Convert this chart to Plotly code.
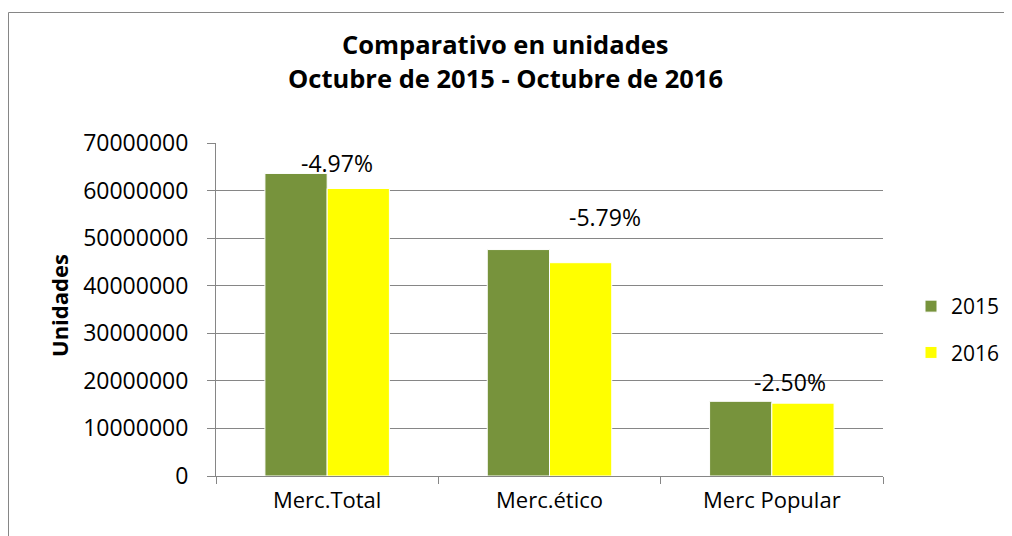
import plotly.graph_objects as go

categories = ["Merc.Total", "Merc.ético", "Merc Popular"]
series_2015 = [63600000, 47600000, 15700000]
series_2016 = [60440000, 44840000, 15310000]
pct_labels = ["-4.97%", "-5.79%", "-2.50%"]
pct_label_y = [65800000, 54500000, 19700000]
pct_label_xshift = [10, 55, 18]

FONT = "Open Sans"
OFF = 8  # page body margin
W, H = 1012 - OFF, 536 - OFF
L, T = 216 - OFF, 143 - OFF
R = W - (883 - OFF)
B = H - (476 - OFF)
pw, ph = W - L - R, H - T - B

def px_x(x):
    return (x - OFF - L) / pw

def px_y(y):
    return (H - B - (y - OFF)) / ph

fig = go.Figure()
fig.add_bar(name="2015", x=categories, y=series_2015, marker=dict(color="#77933C", line=dict(color="white", width=1)),
            legendgroup="a")
fig.add_bar(name="2016", x=categories, y=series_2016, marker=dict(color="#FFFF00", line=dict(color="white", width=1)),
            legendgroup="b")

for c, t, y, xs in zip(categories, pct_labels, pct_label_y, pct_label_xshift):
    fig.add_annotation(x=c, y=y, text=t, showarrow=False, xshift=xs,
                       font=dict(family=FONT, size=23, color="black"))

fig.add_annotation(xref="paper", yref="paper", x=px_x(505), y=px_y(44), text="<b>Comparativo en unidades</b>",
                   xanchor="center", yanchor="middle",
                   showarrow=False, font=dict(family=FONT, size=25.5, color="black"))
fig.add_annotation(xref="paper", yref="paper", x=px_x(505), y=px_y(78), text="<b>Octubre de 2015 - Octubre de 2016</b>",
                   xanchor="center", yanchor="middle",
                   showarrow=False, font=dict(family=FONT, size=25.5, color="black"))
fig.add_annotation(xref="paper", yref="paper", x=px_x(59), y=px_y(306), text="<b>Unidades</b>", textangle=-90,
                   xanchor="center", yanchor="middle",
                   showarrow=False, font=dict(family=FONT, size=22, color="black"))

fig.add_shape(type="rect", xref="paper", yref="paper", x0=px_x(8.5), x1=px_x(1030), y0=px_y(560), y1=px_y(12.5),
              line=dict(color="#868686", width=1))

fig.update_layout(
    width=W, height=H,
    margin=dict(l=L, r=R, t=T, b=B, autoexpand=False),
    paper_bgcolor="white", plot_bgcolor="white",
    barmode="group", bargap=0.44, bargroupgap=0,
    font=dict(family=FONT, size=21, color="black"),
    showlegend=True,
    legend=dict(xref="container", x=(911 - OFF) / W, y=px_y(286), xanchor="left", yanchor="top", tracegroupgap=16,
                font=dict(family=FONT, size=21, color="black"), bgcolor="rgba(0,0,0,0)"),
)
fig.update_xaxes(showline=True, linecolor="#868686", linewidth=1, ticks="outside", tickson="boundaries",
                 ticklen=7, tickcolor="#868686", showgrid=False, tickfont=dict(family=FONT, size=22),
                 ticklabelstandoff=5)
fig.update_yaxes(range=[0, 70000000], dtick=10000000, tickformat="d", showline=True, linecolor="#868686",
                 linewidth=1, ticks="outside", ticklen=8, tickcolor="#868686", showgrid=True,
                 gridcolor="#868686", gridwidth=1, zeroline=False, tickfont=dict(family=FONT, size=23),
                 ticklabelstandoff=14)

fig.write_html("out.html")
